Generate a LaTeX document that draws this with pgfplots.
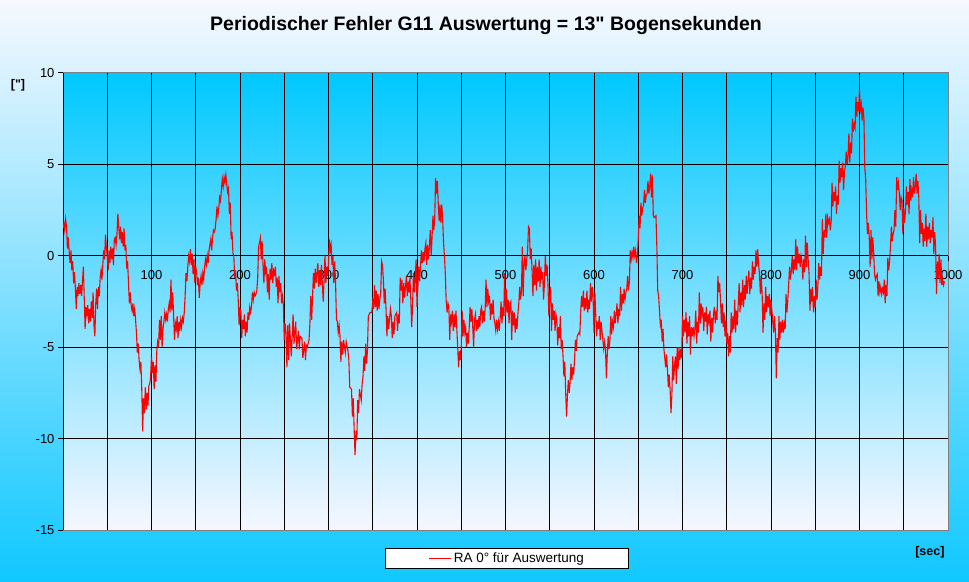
\documentclass[border=0pt]{standalone}
\usepackage{fontspec}
\setmainfont{Liberation Sans}[Ligatures=TeXOff]
\usepackage{pgfplots}
\pgfplotsset{compat=1.18}

\definecolor{plottop}{RGB}{0,200,255}
\definecolor{plotmid}{RGB}{175,224,255}
\definecolor{plotbot}{RGB}{246,247,255}
\definecolor{bgtop}{RGB}{246,248,255}
\definecolor{bgmid}{RGB}{200,236,255}
\definecolor{bgbot}{RGB}{16,200,255}
\definecolor{framegray}{RGB}{128,128,128}

\begin{document}
\begin{tikzpicture}
% background of the whole chart
\shade[top color=bgtop, middle color=bgmid, bottom color=bgbot] (0pt,0pt) rectangle (969pt,581pt);
\node[font=\fontsize{19.5}{22}\selectfont\bfseries] at (486pt,555pt) {Periodischer Fehler G11 Auswertung = 13" Bogensekunden};
\node[font=\fontsize{12.5}{14}\selectfont\bfseries] at (18pt,496pt) {["]};
\node[font=\fontsize{12.5}{14}\selectfont\bfseries, anchor=east] at (948pt,29pt) {[sec]};

\begin{axis}[
  scale only axis,
  width=885pt, height=457pt,
  at={(63pt,51pt)}, anchor=south west,
  xmin=0, xmax=1000, ymin=-15, ymax=10,
  axis x line*=middle, axis y line*=left,
  xtick={0,100,...,1000}, minor xtick={50,100,...,950},
  ytick={-15,-10,...,10}, minor ytick={-10,-5,0,5},
  xminorgrids=true, yminorgrids=true,
  minor grid style={black, line width=1pt},
  minor tick length=0pt,
  major tick length=5pt,
  ytick align=outside, xtick align=outside,
  axis line style={black, line width=1pt},
  tick style={black, line width=1pt},
  axis background/.style={shade, top color=plottop, middle color=plotmid,
    bottom color=plotbot, draw=framegray, line width=1pt},
  tick label style={font=\fontsize{13}{15}\selectfont},
  /pgf/number format/assume math mode=true,
  /pgf/number format/1000 sep={},
  xticklabel style={anchor=north, yshift=-6pt},
  yticklabel style={anchor=east},
  legend style={at={(0.502,-0.062)}, anchor=center, draw=black, line width=0.8pt,
    fill=white, font=\fontsize{13.5}{15}\selectfont, inner xsep=43pt, inner ysep=2.5pt},
  legend image code/.code={\draw[#1] (0pt,0pt) -- (22pt,0pt);},
]
\addplot[red, line width=1.1pt, no marks] coordinates {
(0,1.5)(1,1.8)(2,1.4)(3,2.0)(4,1.6)(5,0.4)(6,1.0)(7,0.2)(8,-0.4)(9,0.3)
(10,-0.8)(11,-0.3)(12,-1.5)(13,-0.9)(14,-1.8)(15,-2.9)(16,-1.7)(17,-2.2)(18,-1.5)(19,-2.1)
(20,-1.6)(21,-2.2)(22,-1.4)(23,-0.6)(24,-2.3)(25,-4.0)(26,-2.8)(27,-3.2)(28,-2.7)(29,-3.7)
(30,-2.9)(31,-3.6)(32,-2.5)(33,-3.4)(34,-2.0)(35,-3.8)(36,-4.4)(37,-2.6)(38,-1.8)(39,-2.9)
(40,-1.7)(41,-2.2)(42,-1.2)(43,-0.8)(44,-1.3)(45,-0.5)(46,0.3)(47,-0.2)(48,1.15)(49,0.4)
(50,0.0)(51,-0.8)(52,0.3)(53,-0.4)(54,0.5)(55,-0.2)(56,0.4)(57,-0.5)(58,0.9)(59,1.0)
(60,0.6)(61,1.2)(62,2.3)(63,1.6)(64,0.9)(65,1.6)(66,0.7)(67,1.3)(68,0.5)(69,1.5)
(70,0.3)(71,0.6)(72,-0.7)(73,-0.3)(74,-1.5)(75,-2.6)(76,-2.0)(77,-2.7)(78,-3.0)(79,-2.6)
(80,-3.3)(81,-2.9)(82,-3.5)(83,-4.2)(84,-5.3)(85,-4.8)(86,-5.7)(87,-6.2)(88,-5.8)(89,-7.3)
(90,-9.6)(91,-7.8)(92,-8.6)(93,-7.2)(94,-8.4)(95,-7.5)(96,-8.2)(97,-7.1)(98,-7.0)(99,-6.6)
(100,-5.5)(101,-6.4)(102,-5.8)(103,-7.3)(104,-6.0)(105,-6.9)(106,-5.2)(107,-4.7)(108,-5.0)(109,-3.5)
(110,-4.6)(111,-3.3)(112,-5.0)(113,-4.0)(114,-3.6)(115,-3.1)(116,-3.5)(117,-3.2)(118,-3.6)(119,-2.9)
(120,-2.6)(121,-3.1)(122,-1.3)(123,-3.0)(124,-2.0)(125,-3.3)(126,-4.6)(127,-3.7)(128,-4.0)(129,-3.3)
(130,-4.5)(131,-3.6)(132,-4.1)(133,-3.5)(134,-3.9)(135,-3.4)(136,-3.6)(137,-3.1)(138,-2.2)(139,-0.95)
(140,-1.4)(141,-0.6)(142,0.0)(143,-0.3)(144,0.36)(145,-0.5)(146,0.1)(147,-1.0)(148,-0.2)(149,-1.5)
(150,-0.6)(151,-0.9)(152,-1.6)(153,-1.2)(154,-2.3)(155,-1.5)(156,-1.1)(157,-1.6)(158,-0.95)(159,-1.3)
(160,-0.6)(161,-0.2)(162,-0.5)(163,0.0)(164,-0.4)(165,0.3)(166,0.6)(167,0.9)(168,0.3)(169,1.0)
(170,1.4)(171,1.3)(172,1.5)(173,2.0)(174,2.7)(175,2.2)(176,2.6)(177,3.2)(178,3.0)(179,3.6)
(180,4.2)(181,3.8)(182,4.3)(183,4.0)(184,4.43)(185,3.9)(186,3.5)(187,3.7)(188,2.3)(189,2.9)
(190,0.9)(191,1.3)(192,0.15)(193,0.0)(194,-1.2)(195,-0.8)(196,-1.9)(197,-1.5)(198,-2.4)(199,-3.8)
(200,-2.9)(201,-3.0)(202,-4.5)(203,-3.5)(204,-4.0)(205,-3.2)(206,-4.4)(207,-3.6)(208,-4.2)(209,-3.1)
(210,-3.5)(211,-2.8)(212,-3.1)(213,-2.8)(214,-2.0)(215,-2.4)(216,-2.0)(217,-2.2)(218,-2.1)(219,-1.9)
(220,-1.2)(221,0.5)(222,0.7)(223,0.97)(224,-0.2)(225,0.8)(226,-0.5)(227,-1.5)(228,-0.2)(229,-0.9)
(230,-0.6)(231,-2.0)(232,-1.0)(233,-2.4)(234,-0.7)(235,-1.3)(236,-0.4)(237,-1.5)(238,-0.8)(239,-1.0)
(240,-0.6)(241,-1.7)(242,-1.2)(243,-2.6)(244,-1.1)(245,-2.0)(246,-1.5)(247,-2.6)(248,-2.2)(249,-2.7)
(250,-4.6)(251,-3.7)(252,-4.2)(253,-6.1)(254,-3.8)
(255,-5.7)(256,-3.7)(257,-4.6)(258,-5.5)(260,-3.2)(261,-4.8)(263,-3.6)(264,-5.1)(266,-4.1)(267,-5.1)
(268,-4.4)(270,-4.5)(271,-5.6)(273,-4.7)(274,-5.7)(275,-4.9)(276,-5.0)(278,-4.6)(279,-3.7)(280,-2.2)
(281,-3.5)(282,-2.2)(283,-0.95)(284,-1.8)(285,-0.7)(286,-1.5)(288,-0.4)(289,-1.7)(290,-0.8)(291,-1.6)
(292,-0.5)(294,-2.5)(295,-1.3)(296,0.05)(297,-1.5)(298,-0.6)(299,-1.1)(300,-0.4)(301,0.9)(302,0.3)
(303,0.6)(304,-0.5)(305,0.0)(306,-1.5)(307,-0.3)(308,-1.5)(309,-3.5)(310,-3.6)(311,-4.2)(312,-3.8)
(313,-4.4)(314,-5.8)(315,-4.7)(316,-5.4)(317,-4.6)(319,-5.3)(320,-4.7)(322,-5.2)(323,-5.7)(324,-7.2)
(326,-7.3)(327,-8.8)(328,-7.8)(329,-9.5)(330,-10.9)(331,-9.6)(332,-10.1)(333,-7.9)(334,-8.6)(335,-7.3)
(337,-7.9)(338,-7.0)(339,-6.6)(340,-5.5)(341,-6.3)(342,-4.8)(343,-5.9)(344,-5.2)(345,-3.3)(347,-3.1)
(349,-3.1)(350,-2.5)(351,-2.9)(352,-1.6)(353,-2.8)(354,-1.9)(355,-3.0)(356,-2.1)(357,-2.9)(358,-2.4)
(359,-2.0)(360,-0.3)(361,-0.5)(362,-1.3)(363,-2.6)(364,-1.8)(365,-2.9)(366,-4.4)(367,-3.3)(368,-4.0)
(370,-2.9)(371,-3.3)(372,-4.5)(373,-3.6)(374,-4.3)(375,-3.3)(377,-3.1)(378,-4.1)(379,-3.2)(380,-3.7)
(381,-1.2)(382,-1.9)(383,-1.3)(384,-2.6)(385,-1.5)(386,-2.3)(388,-1.1)(389,-2.2)(390,-1.4)(391,-2.0)
(392,-1.2)(393,-2.4)(394,-3.9)(395,-2.7)(396,-0.95)(397,-2.0)(398,-1.3)(399,-0.2)(400,-2.8)(401,-1.7)
(402,-0.6)(403,-1.4)(405,0.3)(406,-0.4)(407,0.2)(408,-0.3)(409,0.4)(410,0.7)(411,-0.5)(412,0.6)
(413,-0.2)(414,0.5)(415,1.4)(416,0.0)(417,1.0)(418,2.2)(419,1.4)(420,2.0)(421,4.25)(422,3.4)
(423,4.1)(424,2.9)(425,1.9)(426,2.8)(427,1.8)(428,2.8)(429,2.0)(430,0.7)(431,0.0)(432,-1.0)
(433,-2.5)(434,-3.1)(435,-2.6)(436,-2.8)(437,-4.6)(438,-3.2)(439,-3.6)(440,-3.0)(441,-4.1)(442,-3.2)
(443,-3.9)(444,-3.0)(445,-4.0)(446,-5.0)(447,-6.1)(448,-5.2)(449,-5.7)(450,-5.0)(451,-3.0)(452,-4.4)
(453,-3.5)(454,-4.2)(455,-3.9)(456,-5.0)(457,-4.2)(458,-4.8)(459,-3.9)(460,-2.8)(461,-3.6)(462,-2.9)
(463,-3.9)(464,-5.0)(465,-3.5)(466,-3.2)(467,-4.1)(468,-3.5)(469,-4.0)(470,-3.3)(471,-3.9)(472,-3.0)
(473,-2.8)(474,-3.7)(475,-3.0)(476,-3.6)(477,-2.9)(478,-1.3)(479,-2.8)(480,-1.8)(481,-2.5)(482,-2.2)
(483,-3.5)(484,-2.6)(485,-3.2)(486,-2.4)(487,-3.4)(488,-3.7)(489,-4.1)(490,-3.5)(491,-4.0)(492,-3.6)
(493,-4.1)(494,-3.4)(495,-2.5)(496,-3.7)(497,-2.8)(498,-3.3)(499,-0.95)(500,-3.3)(501,-1.8)(502,-3.1)
(503,-2.4)(504,-3.7)(505,-2.6)
(506,-2.5)(507,-4.6)(508,-3.0)(509,-3.8)(510,-3.1)(511,-4.2)(512,-3.4)(513,-4.0)(514,-3.2)(515,-2.6)
(516,-1.7)(517,-2.4)(518,-2.0)(519,0.5)(520,-2.2)(521,-0.4)(522,0.0)(523,-0.8)(524,-0.2)(525,0.3)
(526,1.6)(527,1.5)(528,-0.2)(529,0.4)(530,-0.8)(531,-2.2)(532,-0.5)(533,-1.6)(534,-0.2)(535,-1.9)
(536,-0.6)(537,-1.4)(538,-0.2)(539,-1.7)(540,-0.6)(541,-1.3)(542,-0.9)(543,-2.4)(544,-1.5)(545,0.0)
(546,-1.1)(547,-0.5)(548,-1.6)(549,-3.3)(550,-2.2)(551,-1.7)(552,-4.1)(553,-2.6)(554,-3.5)(555,-3.0)
(556,-4.1)(557,-3.2)(558,-3.5)(559,-4.9)(560,-3.9)(561,-4.5)(562,-3.3)(563,-5.1)(564,-4.6)(565,-5.5)
(566,-6.6)(567,-5.8)(568,-7.5)(569,-8.8)(570,-7.6)(571,-6.8)(572,-7.5)(573,-6.9)(574,-5.9)(575,-6.8)
(576,-6.1)(577,-6.5)(578,-5.7)(579,-4.6)(580,-5.2)(581,-4.4)(583,-4.2)(584,-4.3)(585,-3.0)(586,-2.2)
(587,-2.8)(588,-1.9)(589,-3.0)(590,-2.3)(591,-2.9)(592,-1.9)(593,-3.1)(594,-2.4)(595,-2.9)(596,-1.5)
(597,-2.5)(598,-1.7)(599,-2.3)(600,-4.2)(601,-2.0)(602,-3.3)(603,-4.4)(604,-3.6)(605,-4.0)(606,-3.3)
(607,-4.6)(608,-3.6)(609,-4.1)(610,-4.6)(611,-5.1)(612,-4.7)(613,-5.1)(614,-6.7)(615,-5.4)(616,-4.4)
(617,-5.1)(618,-4.6)(619,-3.3)(620,-4.3)(621,-3.6)(622,-3.9)(623,-3.0)(624,-3.7)(625,-3.2)(626,-2.6)
(627,-3.7)(628,-2.9)(629,-3.3)(630,-1.7)(631,-3.0)(632,-2.1)(633,-2.6)(634,-1.8)(635,-2.4)(636,-2.0)
(637,-1.8)(638,-1.1)(639,-1.9)(640,-1.4)(641,0.3)(642,-0.2)(643,0.2)(644,-0.1)(645,0.5)(646,0.0)
(647,0.3)(648,-0.4)(649,0.0)(650,0.9)(651,2.2)(652,1.5)(653,2.9)(654,2.2)(655,2.6)(656,2.8)
(657,3.6)(658,2.9)(659,3.3)(660,3.4)(661,4.1)(662,3.4)(663,3.8)(664,4.5)(665,3.2)(666,4.4)
(667,2.2)(668,2.1)(670,2.2)(671,0.5)(672,-1.9)(673,-2.2)(674,-3.0)(675,-3.8)(676,-3.5)(677,-4.7)
(678,-4.0)(679,-5.1)(680,-5.6)(681,-6.1)(682,-5.4)(683,-6.2)(684,-7.2)(685,-6.5)(686,-7.3)(687,-8.6)
(688,-7.6)(689,-5.5)(690,-6.8)(691,-6.0)(692,-5.5)(693,-7.0)(694,-5.0)(695,-6.2)(696,-5.0)(697,-5.7)
(698,-5.1)(699,-5.6)(700,-3.3)(701,-4.4)(702,-3.5)(703,-4.2)(704,-3.1)(705,-4.8)(706,-3.6)(707,-4.4)
(708,-3.3)(709,-5.4)(710,-3.9)(711,-4.4)(712,-3.9)(713,-4.4)(714,-4.0)(715,-3.0)(716,-4.8)(717,-3.6)
(718,-4.2)(719,-2.0)(720,-3.7)(721,-2.6)(722,-3.2)(723,-2.8)(724,-4.1)(725,-3.1)(726,-3.6)(727,-2.8)
(728,-4.3)(729,-3.2)(730,-3.6)(731,-3.0)(732,-4.7)(733,-3.4)(734,-4.2)(735,-3.2)(736,-2.8)(737,-3.7)
(738,-3.0)(739,-3.5)(740,-1.1)(741,-2.0)(742,-1.5)(743,-2.5)(744,-3.7)(745,-2.6)(746,-3.9)(747,-3.1)
(748,-4.4)(749,-3.5)(750,-4.8)(751,-4.2)(752,-5.5)(753,-4.4)(754,-5.3)
(755,-3.1)(756,-4.2)(757,-3.3)(758,-4.0)(759,-2.4)(760,-4.2)(761,-3.0)(762,-3.8)(763,-2.6)(764,-1.5)
(765,-3.1)(766,-2.0)(767,-2.7)(768,-1.3)(769,-2.8)(770,-1.6)(771,-2.4)(772,-1.1)(773,-2.1)(774,-1.4)
(775,-0.8)(776,-2.1)(777,-1.2)(778,-1.8)(779,-0.3)(780,-1.3)(781,-0.6)(782,-1.0)(783,0.3)(784,-0.6)
(785,0.35)(786,-0.5)(787,-1.0)(788,-2.1)(789,-1.2)(790,-2.1)(791,-4.2)(792,-2.6)(793,-3.5)(794,-1.7)
(795,-3.1)(796,-2.2)(797,-2.8)(798,-2.1)(799,-3.3)(800,-2.4)(801,-3.0)(802,-3.6)(803,-4.2)(804,-3.3)
(805,-4.2)(806,-6.7)(807,-4.5)(808,-5.3)(809,-3.3)(810,-4.6)(811,-3.6)(812,-4.2)(813,-3.5)(814,-4.2)
(815,-3.7)(816,-4.0)(817,-2.1)(818,-3.1)(819,-2.4)(820,-1.5)(821,-0.6)(822,-1.3)(823,-0.8)(824,0.0)
(825,-1.0)(826,-0.2)(827,-0.8)(828,0.9)(829,-0.8)(830,0.5)(831,-0.4)(832,0.1)(833,-0.6)(834,0.0)
(835,-0.3)(836,-1.3)(837,-0.2)(838,-0.9)(839,1.1)(840,-0.6)(841,0.7)(842,-0.2)(843,-1.0)(844,-3.0)
(845,-1.8)(846,-2.5)(847,-1.7)(848,-3.1)(849,-2.2)(850,-2.8)(851,-1.3)(852,-2.4)(853,-1.6)(854,-0.4)
(855,-1.3)(856,-0.6)(857,-1.1)(858,2.0)(859,0.1)(860,1.4)(861,1.0)(862,2.3)(863,1.0)(864,2.1)
(865,1.8)(866,2.0)(867,1.4)(868,1.9)(869,4.0)(870,2.7)(871,3.5)(872,3.0)(873,3.8)(874,2.3)
(875,3.3)(876,2.8)(877,5.2)(878,4.0)(879,4.8)(880,4.3)(881,5.1)(882,3.6)(883,4.6)(884,4.9)
(885,5.7)(886,5.0)(887,5.4)(888,6.7)(889,5.1)(890,6.2)(891,5.6)(892,7.5)(893,6.8)(894,7.2)
(895,7.0)(896,8.7)(897,7.6)(898,8.4)(899,7.9)(900,9.1)(901,8.0)(902,8.3)(903,7.4)(904,8.1)
(905,7.5)(906,4.8)(907,4.2)(908,2.3)(909,1.2)(910,1.8)(911,1.0)(912,-0.6)(913,1.4)(914,-0.2)
(915,1.0)(916,0.2)(917,-1.0)(918,-1.3)(919,-1.1)(920,-1.0)(921,-2.2)(922,-1.4)(923,-2.0)(924,-1.7)
(925,-2.1)(926,-1.8)(927,-2.0)(928,-1.3)(929,-2.6)(930,-1.6)(931,-2.2)(932,-0.1)(933,-0.8)(934,-0.3)
(935,0.5)(936,1.6)(937,0.8)(938,1.2)(939,1.4)(940,2.5)(941,1.6)(942,4.3)(943,3.6)(944,4.0)
(945,3.4)(946,2.5)(947,3.2)(948,3.0)(949,1.2)(950,2.6)(951,1.8)(952,2.5)(953,3.8)(954,2.8)
(955,3.5)(956,2.3)(957,4.2)(958,3.0)(959,3.6)(960,3.2)(961,4.3)(962,3.4)(963,3.8)(964,4.5)
(965,3.4)(966,4.1)(967,3.2)(968,0.7)(969,2.5)(970,1.2)(971,1.8)(972,0.5)(973,1.5)(974,0.8)
(975,2.3)(976,0.5)(977,1.6)(978,0.9)(979,1.8)(980,0.7)(981,1.4)(982,1.0)(983,2.1)(984,0.1)
(985,1.3)(986,0.5)(987,-2.1)(988,-0.3)(989,-1.2)(990,0.1)(991,-1.5)(992,-0.2)(993,-1.6)(994,-1.3)
(995,-1.6)(996,-1.4)
};
\addlegendentry{RA 0° für Auswertung}
\end{axis}
\end{tikzpicture}
\end{document}
